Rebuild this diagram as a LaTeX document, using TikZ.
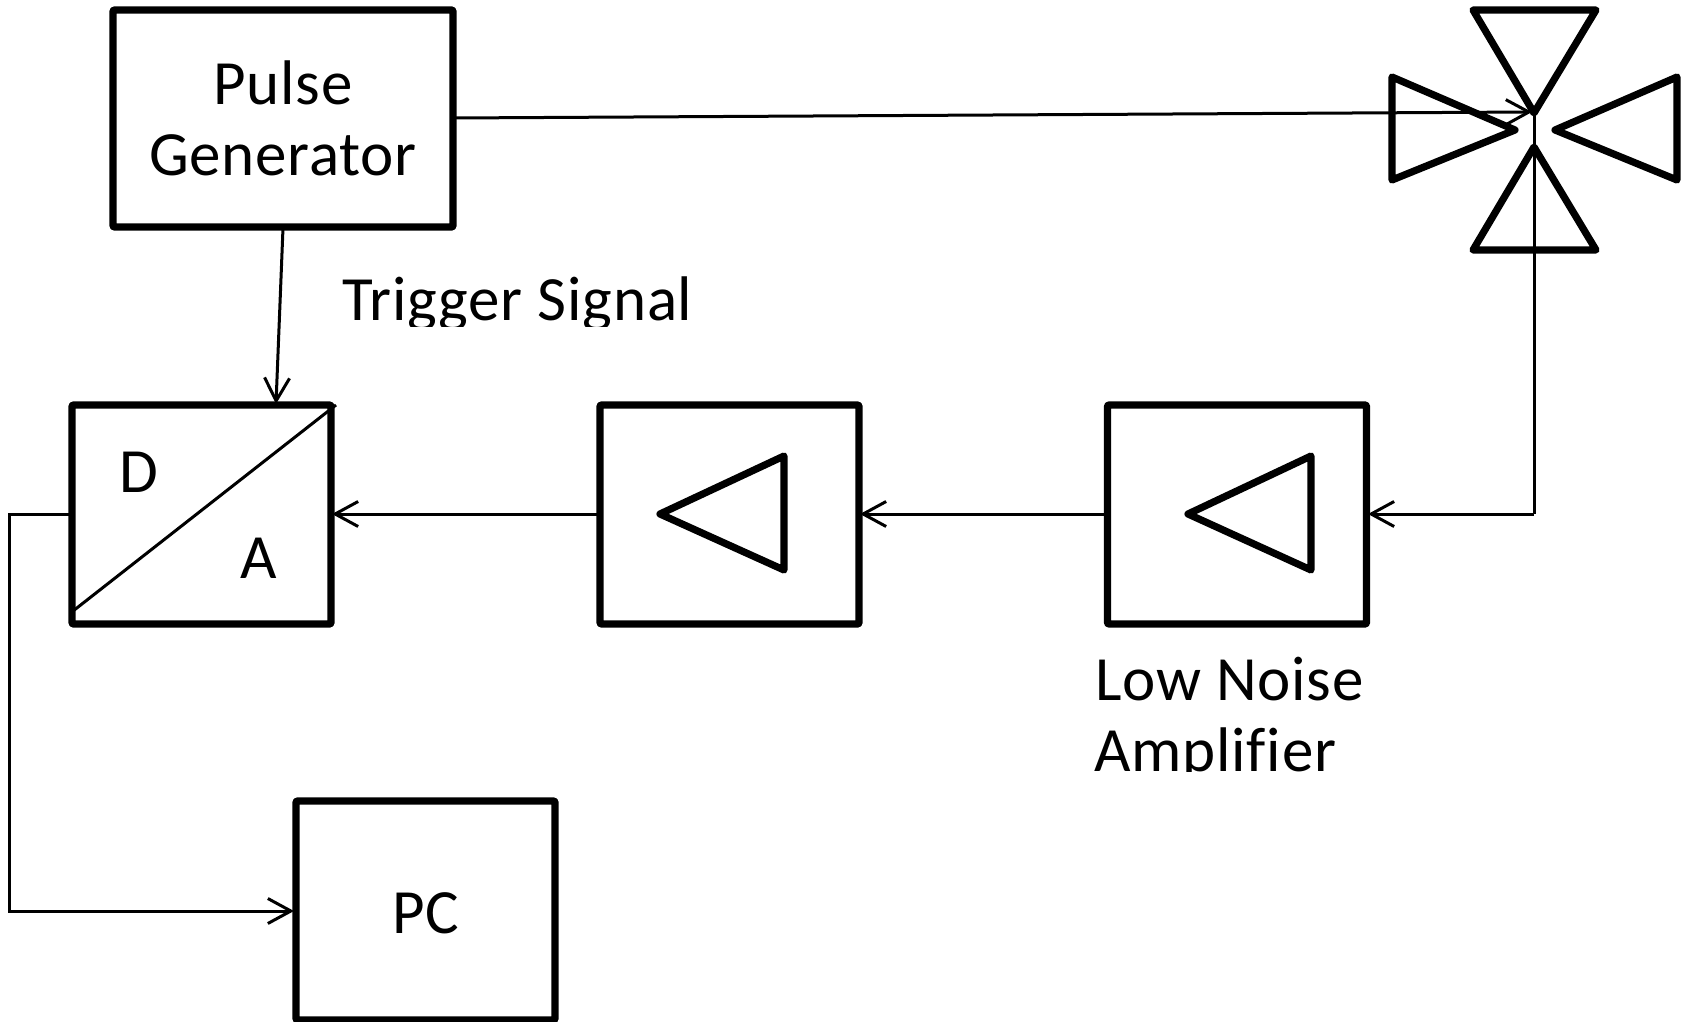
\documentclass[tikz,border=0pt]{standalone}
\usepackage{fontspec}
\setmainfont[Ligatures=NoCommon,LetterSpace=1.2]{Carlito}
\usetikzlibrary{arrows.meta}
\tikzset{
  x=0.5pt,y=-0.5pt,
  block/.style={draw=black,line width=3.6pt,rounded corners=0.5pt,line join=round,inner sep=0pt,outer sep=0pt,anchor=north west,fill=none},
  sym/.style={draw=black,line width=3.6pt,line join=round},
  wire/.style={draw=black,line width=1.5pt},
  arrowed/.style={wire,-{Straight Barb[length=11.5pt,width=12.5pt,line width=1.5pt]}},
  lbl/.style={font=\fontsize{31.5}{36}\selectfont,inner sep=0pt,text=black},
}
\begin{document}
\begin{tikzpicture}
\useasboundingbox (0,0) rectangle (1686,1022);
% blocks
\node[block,minimum width=170pt,minimum height=108.5pt] (pulse) at (113,10) {};
\node[block,minimum width=129.5pt,minimum height=109.5pt] (adc) at (72,405) {};
\node[block,minimum width=129.5pt,minimum height=109.5pt] (amp) at (600,405) {};
\node[block,minimum width=129.5pt,minimum height=109.5pt] (lna) at (1107.5,405) {};
\node[block,minimum width=129.5pt,minimum height=109.5pt] (pc) at (296,801) {};
% antenna cross
\coordinate (hub) at (1534,113);
\coordinate (bot) at (1534,147);
\coordinate (turn) at (1534,514);
\draw[sym] (1473,10) -- (1596,10) -- (hub) -- cycle;
\draw[sym] (1473,250) -- (1596,250) -- (bot) -- cycle;
\draw[sym] (1392,77) -- (1392,180) -- (1515,130) -- cycle;
\draw[sym] (1677,77) -- (1677,180) -- (1555,130) -- cycle;
% amplifier triangles
\draw[sym] (660,514) -- (784,456) -- (784,570) -- cycle;
\draw[sym] (1188,514) -- (1311,456) -- (1311,570) -- cycle;
% A/D divider
\coordinate (dA) at (73,611);
\coordinate (dB) at (336,405);
\draw[wire] (dA) -- (dB);
% connectors
\coordinate (pOut) at (454,118);
\coordinate (pTrig) at (283,228);
\coordinate (aTrig) at (276,404);
\coordinate (aR) at (332,514);
\coordinate (aL) at (72,514);
\coordinate (ampL) at (600,514);
\coordinate (ampR) at (860,514);
\coordinate (lnaL) at (1107,514);
\coordinate (lnaR) at (1368,514);
\coordinate (c1) at (9,514);
\coordinate (c2) at (9,911);
\coordinate (pcL) at (294,911);
\draw[arrowed] (pOut) -- (1532,112);
\draw[arrowed] (pTrig) -- (aTrig);
\draw[wire] (hub) -- (turn);
\draw[arrowed] (turn) -- (lnaR);
\draw[arrowed] (lnaL) -- (ampR);
\draw[arrowed] (ampL) -- (aR);
\draw[wire,line join=miter,arrowed] (aL) -- (c1) -- (c2) -- (pcL);
% labels
\node[lbl] (t1) at (283,83) {Pulse};
\node[lbl] (t2) at (283,155) {Generator};
\node[lbl] (t3) at (139,472) {D};
\node[lbl] (t4) at (259,558) {A};
\node[lbl] (t5) at (426,913) {PC};
\begin{scope}
\clip (330,260) rectangle (720,326);
\node[lbl,anchor=base west] (t6) at (342,320) {Trigger Signal};
\end{scope}
\begin{scope}
\clip (1080,640) rectangle (1380,771);
\node[lbl,anchor=base west] (t7) at (1095,700) {Low Noise};
\node[lbl,anchor=base west] (t8) at (1094,771) {Amplifier};
\end{scope}
\end{tikzpicture}
\end{document}
